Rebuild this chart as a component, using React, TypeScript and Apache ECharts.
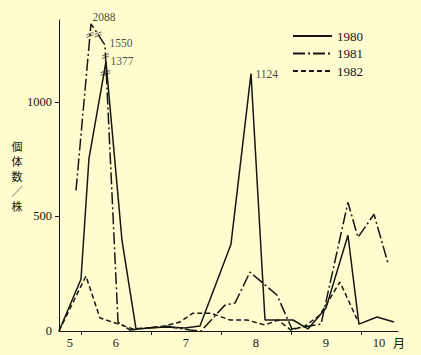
import React, { useEffect, useRef } from 'react';
import * as echarts from 'echarts';

// x: month position (6 = 1 June, 7 = 1 July, ... 10 = 1 October)
// y: individuals per plant (peaks above the axis break are plotted at compressed heights, true values in labels)
const seriesNames = ['1980', '1981', '1982'];

const x1980 = [5.686, 6.0, 6.114, 6.357, 6.586, 6.786, 7.2, 7.486, 7.7, 8.143, 8.429, 8.629, 9.029, 9.243, 9.5, 9.814, 9.971, 10.229, 10.471];
const y1980 = [0, 226, 753, 1175, 396, 9, 17, 13, 22, 379, 1124, 48, 48, 9, 100, 418, 30, 61, 39];

const x1981 = [5.929, 6.143, 6.343, 6.529, 6.7, 7.2, 7.557, 7.714, 8.057, 8.2, 8.414, 8.8, 9.014, 9.429, 9.814, 9.957, 10.186, 10.386];
const y1981 = [614, 1341, 1249, 39, 4, 22, 4, 0, 113, 122, 257, 157, 9, 30, 562, 409, 510, 296];

const x1982 = [5.686, 6.071, 6.271, 6.743, 7.129, 7.414, 7.6, 7.857, 8.129, 8.371, 8.629, 8.814, 9.0, 9.2, 9.414, 9.7, 9.943];
const y1982 = [0, 240, 57, 9, 17, 39, 78, 78, 48, 48, 26, 48, 4, 22, 70, 214, 52];

// value labels on the peaks: series index, point index, text
const labelSeries = [1, 1, 0, 0];
const labelPoint = [1, 2, 3, 10];
const labelText = ['2088', '1550', '1377', '1124'];

// points drawn above the axis break: series index, point index
const brokenSeries = [1, 1, 0];
const brokenPoint = [1, 2, 3];

const yTickValues = [0, 500, 1000];
const monthTicks = [6, 7, 8, 9, 10];
const monthLabelPos = [5.843, 6.5, 7.5, 8.5, 9.5, 10.257];
const yAxisTitle = ['個', '体', '数', '╱', '株'];

const BG = '#fffccf';
const INK = '#161616';
const SERIF = "'Liberation Serif', 'DejaVu Serif', serif";
const CJK = "'Noto Sans CJK JP', 'Noto Sans CJK SC', sans-serif";

export default function App() {
  const ref = useRef<HTMLDivElement>(null);

  useEffect(() => {
    if (!ref.current) return;
    const chart = echarts.init(ref.current, null, { renderer: 'svg' });

    const xs = [x1980, x1981, x1982];
    const ys = [y1980, y1981, y1982];
    const pts = xs.map((xa, s) => xa.map((x, i) => [x, ys[s][i]]));

    const lineTypes: any[] = ['solid', [12, 3, 2, 3], [5, 3]];

    // pixel scale of the axes (for placing break marks a fixed distance from peaks)
    const pxPerX = 70;
    const pxPerY = 0.229;
    const isBroken = (s: number, i: number) =>
      brokenSeries.some((bs, k) => bs === s && brokenPoint[k] === i);
    const marks: number[][] = [];
    const seen = new Set<string>();
    brokenSeries.forEach((s, k) => {
      const i = brokenPoint[k];
      const p = pts[s][i];
      [i - 1, i + 1].forEach((j) => {
        const q = pts[s][j];
        if (!q) return;
        const key = s + ':' + Math.min(i, j);
        if (seen.has(key)) return;
        seen.add(key);
        if (isBroken(s, j)) {
          marks.push([(p[0] + q[0]) / 2, (p[1] + q[1]) / 2]);
        } else {
          const dx = (q[0] - p[0]) * pxPerX;
          const dy = (q[1] - p[1]) * pxPerY;
          const len = Math.sqrt(dx * dx + dy * dy);
          const t = 11 / len;
          marks.push([p[0] + (q[0] - p[0]) * t, p[1] + (q[1] - p[1]) * t]);
        }
      });
    });

    const labelOffsets = [[-3, -7], [0, -2], [0, -1], [0, 0]];
    const labelData = labelText.map((t, k) => {
      const p = pts[labelSeries[k]][labelPoint[k]];
      return {
        value: [p[0], p[1]],
        label: {
          show: true,
          formatter: t,
          position: 'right',
          distance: 4,
          offset: labelOffsets[k],
          color: INK,
          fontFamily: SERIF,
          fontSize: 11.5,
        },
      };
    });

    const option: any = {
      animation: false,
      backgroundColor: BG,
      grid: { left: 59, right: 23, top: 20, bottom: 24 },
      legend: {
        data: seriesNames,
        orient: 'vertical',
        left: 292,
        top: 29,
        padding: 0,
        itemWidth: 39,
        itemHeight: 14,
        itemGap: 3.5,
        itemStyle: { color: 'rgba(0,0,0,0)', borderWidth: 0 },
        textStyle: { color: INK, fontFamily: SERIF, fontSize: 13, lineHeight: 14 },
      },
      xAxis: {
        type: 'value',
        min: 5.686,
        max: 10.529,
        splitLine: { show: false },
        axisLine: { show: true, onZero: false, lineStyle: { color: INK, width: 1 } },
        axisTick: { show: true, customValues: monthTicks, length: 4, lineStyle: { color: INK } },
        axisLabel: {
          customValues: monthLabelPos,
          formatter: (v: number) => String(Math.floor(v + 1e-6)),
          margin: 5,
          color: INK,
          fontFamily: SERIF,
          fontSize: 12.5,
        },
      },
      yAxis: {
        type: 'value',
        min: 0,
        max: 1358,
        splitLine: { show: false },
        axisLine: { show: true, lineStyle: { color: INK, width: 1 } },
        axisTick: { show: true, customValues: [500, 1000], length: 4, lineStyle: { color: INK } },
        axisLabel: {
          customValues: yTickValues,
          formatter: (v: number) => String(v),
          margin: 7,
          color: INK,
          fontFamily: SERIF,
          fontSize: 12.5,
        },
      },
      graphic: [
        ...yAxisTitle.map((ch, k) => ({
          type: 'text',
          x: 17,
          y: 146 + k * 15,
          style: {
            text: ch,
            fill: INK,
            font: `11px ${CJK}`,
            align: 'center',
            verticalAlign: 'middle',
          },
        })),
        {
          type: 'text',
          x: 399,
          y: 342,
          style: {
            text: '月',
            fill: INK,
            font: `12px ${CJK}`,
            align: 'center',
            verticalAlign: 'middle',
          },
        },
      ],
      series: [
        ...seriesNames.map((name, s) => ({
          type: 'line',
          name,
          data: pts[s],
          symbol: 'none',
          lineStyle: { color: INK, width: 1.5, type: lineTypes[s] },
          itemStyle: { color: INK },
          z: 3,
        })),
        {
          type: 'scatter',
          name: 'breaks',
          data: marks,
          symbol: 'path://M0,4L10,0M0,8L10,4',
          symbolSize: [7, 5],
          itemStyle: { color: 'rgba(0,0,0,0)', borderColor: INK, borderWidth: 0.8 },
          z: 4,
          silent: true,
        },
        {
          type: 'scatter',
          name: 'labels',
          data: labelData,
          symbolSize: 1,
          itemStyle: { color: 'rgba(0,0,0,0)' },
          z: 5,
          silent: true,
        },
      ],
    };

    chart.setOption(option);
    return () => chart.dispose();
  }, []);

  return (
    <div
      ref={ref}
      style={{ position: 'fixed', left: 0, top: 0, width: 421, height: 355, background: BG }}
    />
  );
}
